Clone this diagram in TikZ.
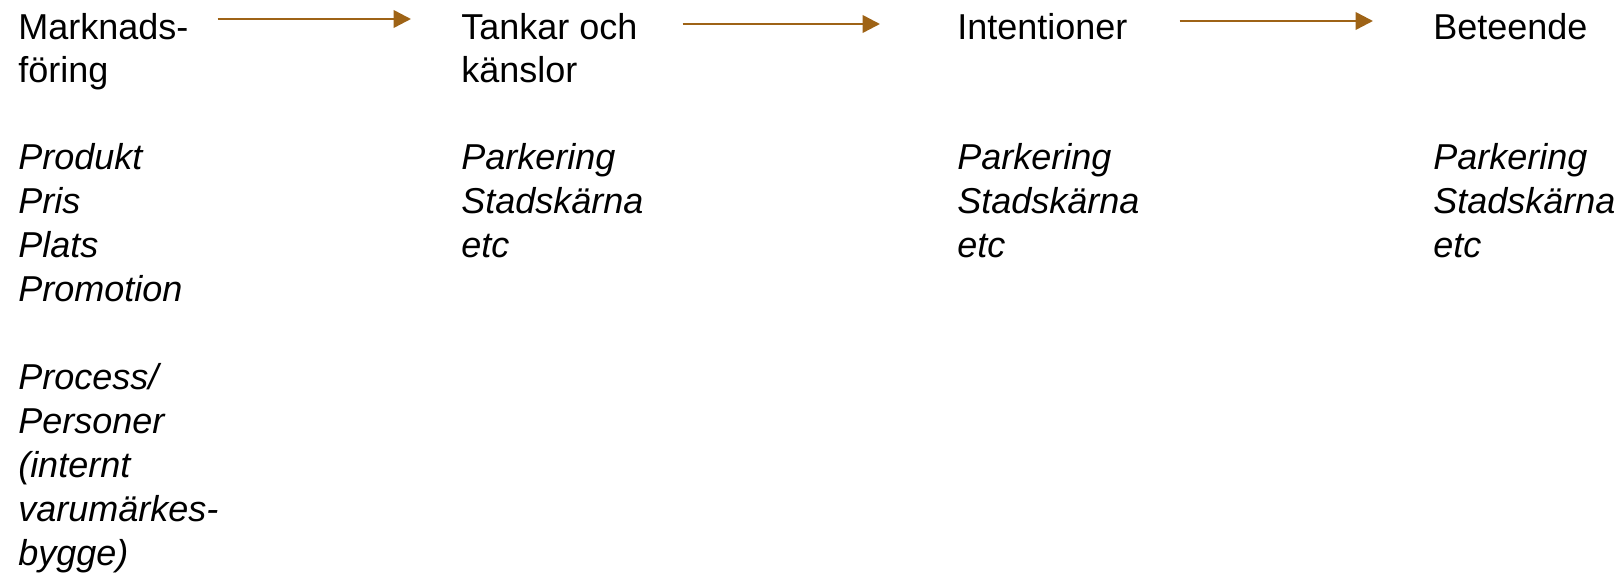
\documentclass[tikz,border=0pt]{standalone}
\usepackage{fontspec}
\setmainfont{Liberation Sans}
\usetikzlibrary{arrows.meta, positioning, calc}
\definecolor{arrowbrown}{RGB}{158,99,22}

\begin{document}
\begin{tikzpicture}[x=0.75pt, y=-0.75pt, >=Stealth,
    head/.style={anchor=north west, inner sep=0pt, align=left, font=\fontsize{27}{32.6}\selectfont},
    items/.style={head, font=\fontsize{27}{33}\selectfont\itshape},
    flow/.style={arrowbrown, line width=1.9pt, -{Triangle[length=13pt,width=13pt]}}]
    \useasboundingbox (0,0) rectangle (1622,573);

    % Headings
    \node[head] (mark) at (18,13) {Marknads-\\föring};
    \node[head] (tank) at (461,13) {Tankar och\\känslor};
    \node[head] (intent) at (957,13) {Intentioner};
    \node[head] (beh) at (1433,13) {Beteende};

    % Flow between steps
    \draw[flow] ([shift={(29,6)}]mark.north east) -- ([shift={(-50,6)}]tank.north west);
    \draw[flow] ([shift={(45,11)}]tank.north east) -- ([shift={(-77,11)}]intent.north west);
    \draw[flow] ([shift={(52,8)}]intent.north east) -- ([shift={(-60,8)}]beh.north west);

    % Examples under each step
    \node[items] (markitems) at (18,143) {Produkt\\Pris\\Plats\\Promotion\\[33pt]Process/\\Personer\\(internt\\varumärkes-\\bygge)};
    \node[items] (tankitems) at (461,143) {Parkering\\Stadskärna\\etc};
    \node[items] (intentitems) at (957,143) {Parkering\\Stadskärna\\etc};
    \node[items] (behitems) at (1433,143) {Parkering\\Stadskärna\\etc};
\end{tikzpicture}
\end{document}
